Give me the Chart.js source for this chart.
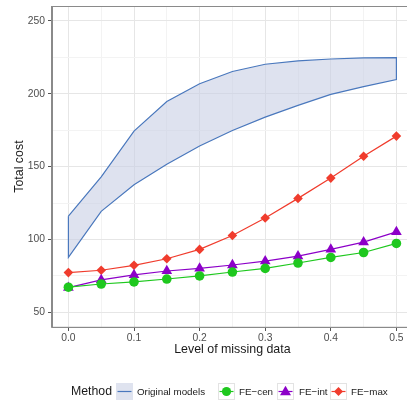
<!DOCTYPE html>
<html>
<head>
<meta charset="utf-8">
<script src="https://cdn.jsdelivr.net/npm/chart.js@4"></script>
<style>
  html, body { margin:0; padding:0; background:#fff; overflow:hidden; width:407px; height:405px; }
  #wrap { position:relative; width:419px; height:405px; }
  canvas { position:absolute; left:0; top:0; }
  .lg { position:absolute; font-family:"Liberation Sans", Arial, sans-serif; color:#1a1a1a; white-space:nowrap; line-height:1; }
  .key { position:absolute; top:383px; width:17px; height:17px; box-sizing:border-box; }
</style>
</head>
<body>
<div id="wrap">
  <canvas id="c" width="419" height="405"></canvas>
  <div class="lg" style="left:71px; top:385px; font-size:12.3px;">Method</div>

  <svg class="key" style="left:116px;" width="17" height="17">
    <rect x="0" y="0" width="17" height="17" fill="#dfe3ef"/>
    <line x1="1.5" y1="8.5" x2="15.5" y2="8.5" stroke="#4a78bd" stroke-width="1.2"/>
  </svg>
  <div class="lg" style="left:137px; top:387px; font-size:9.8px;">Original models</div>

  <svg class="key" style="left:218px;" width="17" height="17">
    <rect x="0.5" y="0.5" width="16" height="16" fill="#fff" stroke="#e3e3e3"/>
    <line x1="1.5" y1="8.5" x2="15.5" y2="8.5" stroke="#1ec81e" stroke-width="1.2"/>
    <circle cx="8.5" cy="8.5" r="4.6" fill="#1ec81e"/>
  </svg>
  <div class="lg" style="left:239px; top:387px; font-size:9.8px;">FE−cen</div>

  <svg class="key" style="left:277px;" width="17" height="17">
    <rect x="0.5" y="0.5" width="16" height="16" fill="#fff" stroke="#e3e3e3"/>
    <line x1="1.5" y1="8.5" x2="15.5" y2="8.5" stroke="#8c00c8" stroke-width="1.2"/>
    <polygon points="8.5,2.8 14,12.3 3,12.3" fill="#8c00c8"/>
  </svg>
  <div class="lg" style="left:299px; top:387px; font-size:9.8px;">FE−int</div>

  <svg class="key" style="left:330px;" width="17" height="17">
    <rect x="0.5" y="0.5" width="16" height="16" fill="#fff" stroke="#e3e3e3"/>
    <line x1="1.5" y1="8.5" x2="15.5" y2="8.5" stroke="#f03c2d" stroke-width="1.2"/>
    <polygon points="8.5,4 13,8.5 8.5,13 4,8.5" fill="#f03c2d"/>
  </svg>
  <div class="lg" style="left:351px; top:387px; font-size:9.8px;">FE−max</div>
</div>
<script>
// ---- data ----
const missingLevels = [0, 0.05, 0.1, 0.15, 0.2, 0.25, 0.3, 0.35, 0.4, 0.45, 0.5];
const originalUpper = [116, 143, 174.3, 194.6, 206.8, 215.2, 220.2, 222.5, 223.8, 224.5, 224.7];
const originalLower = [87.7, 119.3, 137.5, 151.6, 164.1, 174.8, 183.9, 192.0, 199.5, 204.8, 209.7];
const feCen = [67.3, 69.5, 70.9, 72.9, 75.0, 77.7, 80.2, 83.9, 87.7, 91.1, 97.3];
const feInt = [67.0, 72.3, 75.7, 78.4, 80.2, 82.5, 85.2, 88.6, 93.2, 98.2, 105.2];
const feMax = [77.3, 78.9, 82.3, 86.8, 93.2, 102.7, 114.7, 128.2, 142.1, 157.1, 170.9];

const xGridValues = [0, 0.05, 0.1, 0.15, 0.2, 0.25, 0.3, 0.35, 0.4, 0.45, 0.5];
const xTickLabels = ["0.0", "", "0.1", "", "0.2", "", "0.3", "", "0.4", "", "0.5"];
const yGridValues = [50, 75, 100, 125, 150, 175, 200, 225, 250];
const yTickLabels = ["50", "", "100", "", "150", "", "200", "", "250"];

// ribbon polygon: upper forward, lower backward, closed
const ribbon = missingLevels.map((x, i) => ({x, y: originalUpper[i]}))
  .concat(missingLevels.map((x, i) => ({x, y: originalLower[i]})).reverse())
  .concat([{x: missingLevels[0], y: originalUpper[0]}]);
const pts = arr => missingLevels.map((x, i) => ({x, y: arr[i]}));

const FONT = "'Liberation Sans', Arial, sans-serif";

const borderPlugin = {
  id: 'panelBorder',
  afterDraw(chart) {
    const {ctx, chartArea: a} = chart;
    ctx.save();
    ctx.strokeStyle = '#8a8a8a';
    ctx.lineWidth = 1;
    ctx.strokeRect(Math.round(a.left) - 0.5, Math.round(a.top) + 0.5, a.right - a.left + 1, a.bottom - a.top);
    ctx.restore();
  }
};

new Chart(document.getElementById('c'), {
  type: 'line',
  data: {
    datasets: [
      { label: 'Original models', data: ribbon, borderColor: '#4a78bd', borderWidth: 1.2,
        backgroundColor: 'rgba(200,207,228,0.6)', fill: 'shape', pointRadius: 0, tension: 0, order: 4 },
      { label: 'FE−cen', data: pts(feCen), borderColor: '#1ec81e', backgroundColor: '#1ec81e',
        borderWidth: 1.2, pointStyle: 'circle', pointRadius: 4.8, pointBorderWidth: 0, fill: false, order: 1 },
      { label: 'FE−int', data: pts(feInt), borderColor: '#8c00c8', backgroundColor: '#8c00c8',
        borderWidth: 1.2, pointStyle: 'triangle', pointRadius: 6.2, pointBorderWidth: 0, fill: false, order: 2 },
      { label: 'FE−max', data: pts(feMax), borderColor: '#f03c2d', backgroundColor: '#f03c2d',
        borderWidth: 1.2, pointStyle: 'rectRot', pointRadius: 4.8, pointBorderWidth: 0, fill: false, order: 3 }
    ]
  },
  options: {
    responsive: false,
    animation: false,
    layout: { padding: { top: 1.5, left: 0, right: 0, bottom: 0 } },
    plugins: { legend: { display: false }, tooltip: { enabled: false } },
    elements: { line: { tension: 0 } },
    scales: {
      x: {
        type: 'linear', min: -0.025, max: 0.525,
        afterBuildTicks: s => { s.ticks = xGridValues.map(v => ({value: v})); },
        afterFit: s => { s.height = 78; s.paddingLeft = 0; s.paddingRight = 0; },
        ticks: { autoSkip: false, maxRotation: 0, padding: 1, color: '#4d4d4d',
                 font: { family: FONT, size: 10.3 },
                 callback: (v, i) => xTickLabels[i] },
        grid: {
          color: c => (c.index % 2 === 0 ? '#e6e6e6' : '#f3f3f3'),
          lineWidth: 1,
          tickLength: 4,
          tickColor: c => (c.index % 2 === 0 ? '#555' : 'rgba(0,0,0,0)')
        },
        border: { display: true, color: '#8a8a8a', width: 1 },
        title: { display: true, text: 'Level of missing data', color: '#1a1a1a',
                 font: { family: FONT, size: 12.4 }, padding: { top: 0, bottom: 48 } }
      },
      y: {
        type: 'linear', min: 40, max: 260,
        afterBuildTicks: s => { s.ticks = yGridValues.map(v => ({value: v})); },
        afterFit: s => { s.width = 52; s.paddingTop = 0; s.paddingBottom = 0; },
        ticks: { autoSkip: false, padding: 3, color: '#4d4d4d',
                 font: { family: FONT, size: 10.3 },
                 callback: (v, i) => yTickLabels[i] },
        grid: {
          color: c => (c.index % 2 === 0 ? '#e6e6e6' : '#f3f3f3'),
          lineWidth: 1,
          tickLength: 4,
          tickColor: c => (c.index % 2 === 0 ? '#555' : 'rgba(0,0,0,0)')
        },
        border: { display: true, color: '#8a8a8a', width: 1 },
        title: { display: true, text: 'Total cost', color: '#1a1a1a',
                 font: { family: FONT, size: 12.4 }, padding: { top: 12.5, bottom: 0 } }
      }
    }
  },
  plugins: [borderPlugin]
});
</script>
</body>
</html>
